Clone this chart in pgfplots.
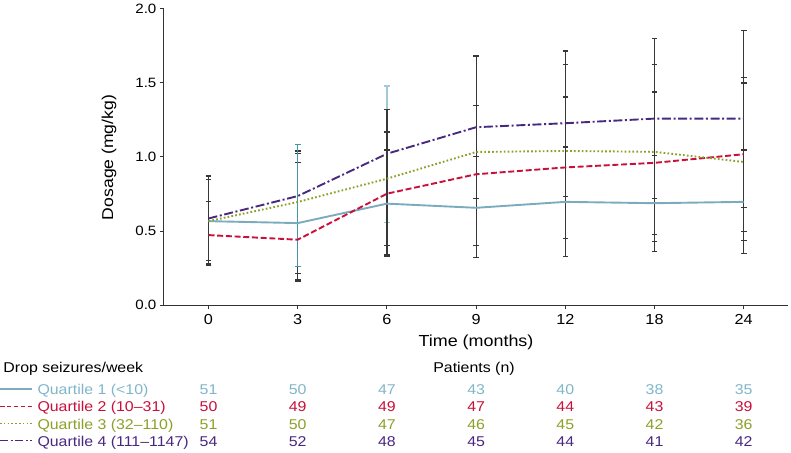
\documentclass[border=0pt]{standalone}
\usepackage{pgfplots}
\pgfplotsset{compat=1.18}
\usepackage{pgfplotstable}
\usepackage{fontspec}
\setmainfont{Liberation Sans}[FakeStretch=1.12]

\definecolor{qone}{RGB}{122,172,190}
\definecolor{qonetext}{RGB}{128,182,202}
\definecolor{qtwo}{RGB}{200,16,58}
\definecolor{qthree}{RGB}{140,160,40}
\definecolor{qfour}{RGB}{74,40,128}
\definecolor{errgray}{RGB}{55,55,55}
\definecolor{axgray}{RGB}{50,50,50}
\definecolor{qteal}{RGB}{70,150,170}
\definecolor{qlight}{RGB}{160,202,216}

\pgfplotstableread{
x y ep em
0 0.567 0.283 0.284
1 0.554 0.531 0.294
2 0.685 0.362 0.353
3 0.657 0.348 0.337
4 0.697 0.370 0.370
5 0.688 0.323 0.323
6 0.697 0.350 0.350
}\tabQone
\pgfplotstableread{
x y ep em
0 0.473 0.224 0.206
1 0.442 0.520 0.283
2 0.752 0.416 0.407
3 0.883 0.465 0.482
4 0.929 0.475 0.478
5 0.960 0.477 0.482
6 1.018 0.518 0.523
}\tabQtwo
\pgfplotstableread{
x y ep em
0 0.567 0.299 0.296
1 0.696 0.327 0.481
2 0.853 0.466 0.452
3 1.033 0.315 0.313
4 1.040 0.584 0.589
5 1.034 0.590 0.606
6 0.966 0.532 0.529
}\tabQthree
\pgfplotstableread{
x y ep em
0 0.585 0.287 0.285
1 0.736 0.304 0.566
2 1.021 0.457 0.463
3 1.200 0.480 0.480
4 1.227 0.486 0.492
5 1.258 0.539 0.538
6 1.258 0.595 0.599
}\tabQfour

\pgfplotsset{
  errbars/.style={draw=none, mark=none, forget plot,
    error bars/y dir=both, error bars/y explicit,
    error bars/error mark=|,
    error bars/error bar style={draw=#1, solid, line width=1.2bp},
    error bars/error mark options={draw=#1, solid, mark size=2.8bp, line width=1.2bp}},
}

\newcommand{\tabfont}{\fontsize{14.2bp}{17bp}\selectfont}

\begin{document}
\begin{tikzpicture}
\useasboundingbox (0,0) rectangle (791bp,453bp);
\begin{axis}[
  at={(163.9bp,147.7bp)}, anchor=south west,
  scale only axis, width=624.4bp, height=296.8bp,
  xmin=-0.5, xmax=6.5, ymin=0, ymax=2,
  axis x line*=bottom, axis y line*=left,
  axis line style={-, draw=axgray, line width=1bp},
  tick style={draw=axgray, line width=1bp},
  tick align=outside, major tick length=4bp,
  xtick={0,...,6}, xticklabels={0,3,6,9,12,18,24},
  ytick={0,0.5,1,1.5,2},
  /pgf/number format/assume math mode=true,
  yticklabel style={/pgf/number format/.cd, fixed, fixed zerofill, precision=1, /tikz/.cd,
    font=\fontsize{13.5bp}{16bp}\selectfont},
  xticklabel style={font=\fontsize{14.5bp}{17bp}\selectfont, yshift=-2bp},
  clip=false,
]
% light blue bar (drawn first, under the dark ones)
\addplot[errbars=qlight] coordinates {(2,1.021) += (0,0.457) -= (0,0.463)};
% dark error bars
\addplot[errbars=errgray] table[x=x,y=y,y error plus=ep,y error minus=em]{\tabQone};
\addplot[errbars=errgray] table[x=x,y=y,y error plus=ep,y error minus=em]{\tabQtwo};
\addplot[errbars=errgray] table[x=x,y=y,y error plus=ep,y error minus=em]{\tabQthree};
\addplot[skip coords between index={2}{3}, errbars=errgray] table[x=x,y=y,y error plus=ep,y error minus=em]{\tabQfour};
% teal bar at month 3
\addplot[errbars=qteal] coordinates {(1,0.554) += (0,0.531) -= (0,0.294)};
% mean lines
\addplot[qone, line width=1.9bp, solid, mark=none] table[x=x,y=y]{\tabQone};
\addplot[qtwo, line width=1.9bp, dash pattern=on 6bp off 2.7bp, mark=none] table[x=x,y=y]{\tabQtwo};
\addplot[qthree, line width=1.9bp, dash pattern=on 1.7bp off 2.2bp, mark=none] table[x=x,y=y]{\tabQthree};
\addplot[qfour, line width=1.9bp, dash pattern=on 9bp off 2.6bp on 2bp off 2.6bp, mark=none] table[x=x,y=y]{\tabQfour};
\end{axis}

% axis titles
\node[anchor=base, inner sep=0, font=\fontsize{16bp}{19bp}\selectfont] at (476bp,106.3bp) {Time (months)};
\node[rotate=90, anchor=base, inner sep=0, font=\fontsize{15.7bp}{19bp}\selectfont] at (113bp,295.5bp) {Dosage (mg/kg)};

% patient table
\node[anchor=base west, inner sep=0, font=\tabfont] at (3.3bp,80.7bp) {Drop seizures/week};
\node[anchor=base, inner sep=0, font=\tabfont] at (474bp,80.7bp) {Patients (n)};

\draw[qone, line width=1.6bp] (0bp,64bp) -- (32bp,64bp);
\draw[qtwo, line width=1.6bp, dash pattern=on 4.5bp off 2.4bp] (0bp,46.6bp) -- (32bp,46.6bp);
\draw[qthree, line width=1.6bp, dash pattern=on 1.6bp off 2.2bp] (0bp,29.3bp) -- (32bp,29.3bp);
\draw[qfour, line width=1.6bp, dash pattern=on 8bp off 2.6bp on 2bp off 2.6bp] (0bp,12.3bp) -- (32bp,12.3bp);

\node[anchor=base west, inner sep=0, font=\tabfont, text=qonetext] at (37.3bp,58.7bp) {Quartile 1 (<10)};
\node[anchor=base west, inner sep=0, font=\tabfont, text=qtwo] at (37.3bp,41.3bp) {Quartile 2 (10–31)};
\node[anchor=base west, inner sep=0, font=\tabfont, text=qthree] at (37.3bp,24bp) {Quartile 3 (32–110)};
\node[anchor=base west, inner sep=0, font=\tabfont, text=qfour] at (37.3bp,7bp) {Quartile 4 (111–1147)};

\foreach \n [count=\i from 0] in {51,50,47,43,40,38,35}
  \node[anchor=base, inner sep=0, font=\tabfont, text=qonetext] at ({208.5bp+89.2bp*\i},58.7bp) {\n};
\foreach \n [count=\i from 0] in {50,49,49,47,44,43,39}
  \node[anchor=base, inner sep=0, font=\tabfont, text=qtwo] at ({208.5bp+89.2bp*\i},41.3bp) {\n};
\foreach \n [count=\i from 0] in {51,50,47,46,45,42,36}
  \node[anchor=base, inner sep=0, font=\tabfont, text=qthree] at ({208.5bp+89.2bp*\i},24bp) {\n};
\foreach \n [count=\i from 0] in {54,52,48,45,44,41,42}
  \node[anchor=base, inner sep=0, font=\tabfont, text=qfour] at ({208.5bp+89.2bp*\i},7bp) {\n};
\end{tikzpicture}
\end{document}
